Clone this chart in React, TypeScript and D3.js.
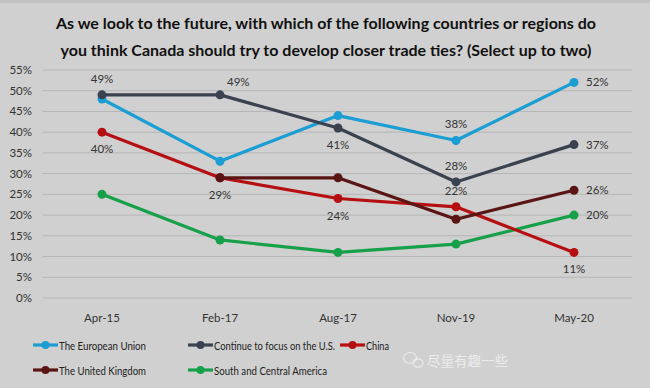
import { useRef, useEffect } from 'react';
import * as d3 from 'd3';

const periods = ['Apr-15', 'Feb-17', 'Aug-17', 'Nov-19', 'May-20'];
const yTicks = [0, 5, 10, 15, 20, 25, 30, 35, 40, 45, 50, 55];

const euValues = [48, 33, 44, 38, 52];
const usValues = [49, 49, 41, 28, 37];
const chinaValues = [40, 29, 24, 22, 11];
const ukValues = [null, 29, 29, 19, 26];
const latamValues = [25, 14, 11, 13, 20];

const seriesNames = [
  'The European Union',
  'Continue to focus on the U.S.',
  'China',
  'The United Kingdom',
  'South and Central America'
];
const seriesColors = ['#1b9ed3', '#3a4250', '#b50f12', '#5a1414', '#17a04a'];

// [series index, period index, where the label sits]
const dataLabels = [
  [0, 3, 'above'], [0, 4, 'right'],
  [1, 0, 'above'], [1, 1, 'aboveRight'], [1, 2, 'below'], [1, 3, 'above'], [1, 4, 'right'],
  [2, 0, 'below'], [2, 1, 'below'], [2, 2, 'below'], [2, 3, 'above'], [2, 4, 'below'],
  [3, 4, 'right'],
  [4, 4, 'right']
];

const W = 650;
const H = 388;
const FONT = 'Lato, "Open Sans", sans-serif';

const App = () => {
  const ref = useRef(null);

  useEffect(() => {
    const svg = d3.select(ref.current);
    svg.selectAll('*').remove();

    const allSeries = [euValues, usValues, chinaValues, ukValues, latamValues];

    svg.append('rect').attr('width', W).attr('height', H).attr('fill', '#d0d0d0');
    svg.append('rect').attr('width', W).attr('height', 3).attr('fill', '#c3c3c3');

    // title
    const title = svg.append('text')
      .attr('text-anchor', 'middle')
      .attr('font-family', FONT)
      .attr('font-weight', 'bold')
      .attr('font-size', 16)
      .attr('fill', '#111');
    title.append('tspan').attr('x', 326).attr('y', 29)
      .text('As we look to the future, with which of the following countries or regions do');
    title.append('tspan').attr('x', 326).attr('y', 56)
      .text('you think Canada should try to develop closer trade ties? (Select up to two)');

    const x = d3.scaleBand().domain(periods).range([43, 633]);
    const y = d3.scaleLinear().domain([0, 55]).range([298, 70]);
    const cx = (i) => x(periods[i]) + x.bandwidth() / 2;

    // grid + y ticks
    svg.append('g').selectAll('line')
      .data(yTicks)
      .enter().append('line')
      .attr('x1', 43).attr('x2', 632)
      .attr('y1', d => y(d)).attr('y2', d => y(d))
      .attr('stroke', '#b5b5b5')
      .attr('stroke-width', 1);

    svg.append('g').selectAll('text')
      .data(yTicks)
      .enter().append('text')
      .attr('x', 32)
      .attr('y', d => y(d) + 4)
      .attr('text-anchor', 'end')
      .attr('font-family', FONT)
      .attr('font-size', 11.5)
      .attr('fill', '#333')
      .text(d => `${d}%`);

    svg.append('g').selectAll('text')
      .data(periods)
      .enter().append('text')
      .attr('x', d => x(d) + x.bandwidth() / 2)
      .attr('y', 322)
      .attr('text-anchor', 'middle')
      .attr('font-family', FONT)
      .attr('font-size', 11.5)
      .attr('fill', '#333')
      .text(d => d);

    const line = d3.line()
      .defined(d => d.v !== null)
      .x(d => cx(d.i))
      .y(d => y(d.v));

    // draw order: back to front
    [4, 2, 3, 0, 1].forEach(s => {
      const pts = allSeries[s].map((v, i) => ({ v, i }));
      svg.append('path')
        .datum(pts)
        .attr('d', line)
        .attr('fill', 'none')
        .attr('stroke', seriesColors[s])
        .attr('stroke-width', 3.2)
        .attr('stroke-linejoin', 'round');
      svg.append('g').selectAll('circle')
        .data(pts.filter(d => d.v !== null))
        .enter().append('circle')
        .attr('cx', d => cx(d.i))
        .attr('cy', d => y(d.v))
        .attr('r', 4.5)
        .attr('fill', seriesColors[s]);
    });

    // data labels
    const offsets = {
      above: [0, -12, 'middle'],
      below: [0, 21, 'middle'],
      right: [12, 4, 'start'],
      aboveRight: [7, -9, 'start']
    };
    svg.append('g').selectAll('text')
      .data(dataLabels)
      .enter().append('text')
      .attr('x', d => cx(d[1]) + offsets[d[2]][0])
      .attr('y', d => y(allSeries[d[0]][d[1]]) + offsets[d[2]][1])
      .attr('text-anchor', d => offsets[d[2]][2])
      .attr('font-family', FONT)
      .attr('font-size', 11.5)
      .attr('fill', '#333')
      .text(d => `${allSeries[d[0]][d[1]]}%`);

    // legend (narrow Calibri-like text, squeezed to fit)
    const legendPos = [[33, 345], [188, 345], [340, 345], [33, 370], [188, 370]];
    const legendWidths = [87, 121, 23, 87, 113];
    const legend = svg.append('g').selectAll('g')
      .data(seriesNames)
      .enter().append('g')
      .attr('transform', (d, i) => `translate(${legendPos[i][0]}, ${legendPos[i][1]})`);
    legend.append('line')
      .attr('x1', 0).attr('x2', 25)
      .attr('stroke', (d, i) => seriesColors[i])
      .attr('stroke-width', 3.2);
    legend.append('circle')
      .attr('cx', 12.5).attr('r', 4)
      .attr('fill', (d, i) => seriesColors[i]);
    legend.append('text')
      .attr('x', 26)
      .attr('y', 4.5)
      .attr('font-family', FONT)
      .attr('font-size', 12)
      .attr('fill', '#222')
      .attr('textLength', (d, i) => legendWidths[i])
      .attr('lengthAdjust', 'spacingAndGlyphs')
      .text(d => d);

    // watermark
    const wm = svg.append('g');
    wm.append('ellipse').attr('cx', 410).attr('cy', 358).attr('rx', 6.5).attr('ry', 5.5)
      .attr('fill', 'none').attr('stroke', '#ececec').attr('stroke-width', 1.2);
    wm.append('ellipse').attr('cx', 418).attr('cy', 363).attr('rx', 5).attr('ry', 4.2)
      .attr('fill', 'none').attr('stroke', '#ececec').attr('stroke-width', 1.2);
    wm.append('text')
      .attr('x', 427).attr('y', 366)
      .attr('font-family', '"Noto Sans CJK SC", sans-serif')
      .attr('font-size', 13.5)
      .attr('fill', '#ececec')
      .text('尽量有趣一些');
  }, []);

  return (
    <svg ref={ref} width={W} height={H} style={{ position: 'absolute', left: 0, top: 0 }}></svg>
  );
};

export default App;
